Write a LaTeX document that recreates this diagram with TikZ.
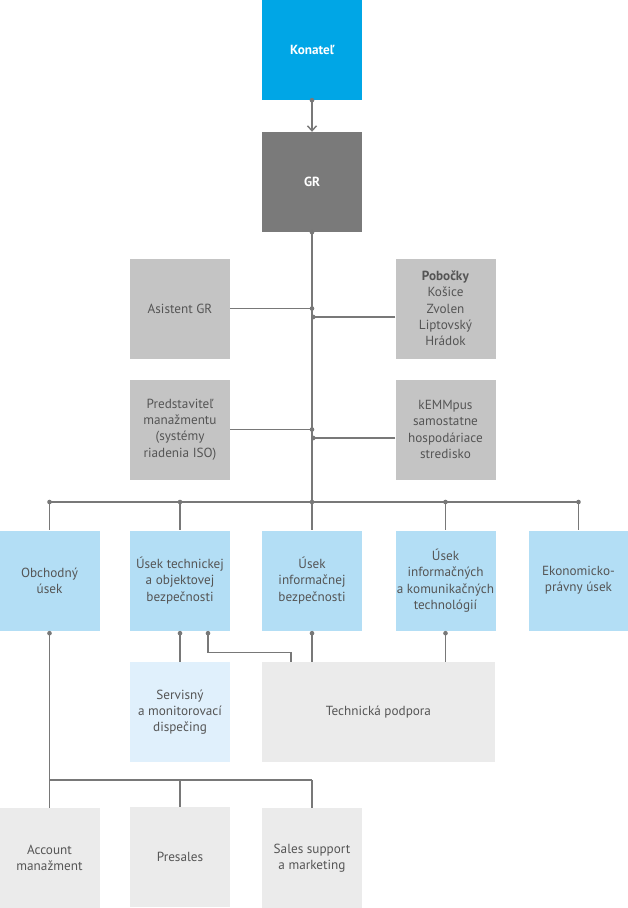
\documentclass[tikz,border=0pt]{standalone}
\usepackage{fontspec}
\setmainfont{PT Sans}
\usetikzlibrary{arrows}
\usetikzlibrary{arrows.meta}
\definecolor{konblue}{RGB}{0,166,230}
\definecolor{grgray}{RGB}{122,122,122}
\definecolor{midgray}{RGB}{196,196,196}
\definecolor{lightblue}{RGB}{179,222,245}
\definecolor{paleblue}{RGB}{224,240,252}
\definecolor{palegray}{RGB}{235,235,235}
\definecolor{linegray}{RGB}{120,120,120}
\definecolor{txtgray}{RGB}{85,85,85}
\tikzset{
  box/.style={minimum width=100pt, minimum height=100pt, inner sep=0pt, align=center, text=txtgray, font=\fontsize{13.2}{16.3}\selectfont},
  topbox/.style={box, text=white, font=\fontsize{13.2}{16.3}\selectfont\bfseries},
  link/.style={draw=linegray, line width=1.4pt},
  dot/.style={fill=linegray}
}
\begin{document}
\begin{tikzpicture}[x=1pt,y=-1pt]
\useasboundingbox[fill=white] (0,0) rectangle (628,908);
% top
\node[topbox, fill=konblue] (konatel) at (312,50) {Konateľ};
\node[topbox, fill=grgray] (gr) at (312,182) {GR};
% staff
\node[box, fill=midgray] (asistent) at (180,308.5) {Asistent GR};
\node[box, fill=midgray] (pobocky) at (445.5,308.5) {\textbf{Pobočky}\\Košice\\Zvolen\\Liptovský\\Hrádok};
\node[box, fill=midgray] (predstavitel) at (180,429.5) {Predstaviteľ\\manažmentu\\(systémy\\riadenia ISO)};
\node[box, fill=midgray] (kemmpus) at (445.5,429.5) {kEMMpus\\samostatne\\hospodáriace\\stredisko};
% departments
\node[box, fill=lightblue] (obchodny) at (49.5,580.5) {Obchodný\\úsek};
\node[box, fill=lightblue] (technicka) at (180,580.5) {Úsek technickej\\a objektovej\\bezpečnosti};
\node[box, fill=lightblue] (infobez) at (312,580.5) {Úsek\\informačnej\\bezpečnosti};
\node[box, fill=lightblue] (ikt) at (445.5,580.5) {Úsek\\informačných\\a komunikačných\\technológií};
\node[box, fill=lightblue] (ekonom) at (578.5,580.5) {Ekonomicko-\\právny úsek};
% units
\node[box, fill=paleblue] (servisny) at (180,712) {Servisný\\a monitorovací\\dispečing};
\node[box, fill=palegray, minimum width=233pt] (podpora) at (378.5,712) {Technická podpora};
\node[box, fill=palegray] (account) at (49.5,858) {Account\\manažment};
\node[box, fill=palegray] (presales) at (180,857) {Presales};
\node[box, fill=palegray] (sales) at (312,858) {Sales support\\a marketing};

\coordinate (bus) at (312,502);
\coordinate (salesbus) at (0,780);

% connectors
\draw[link,-{Straight Barb[length=5pt,width=9pt]}] (konatel.south) -- (gr.north);
\draw[link] (gr.south) -- (bus);
\draw[link] (asistent.east) -- (asistent.east -| gr.south) coordinate (j1);
\draw[link] ([yshift=-8.5pt]pobocky.west) -- ++(-82,0) coordinate (j2);
\draw[link] (predstavitel.east) -- (predstavitel.east -| gr.south) coordinate (j3);
\draw[link] ([yshift=-8.5pt]kemmpus.west) -- ++(-82,0) coordinate (j4);
\draw[link] (obchodny.north |- bus) -- (ekonom.north |- bus);
\foreach \n in {obchodny,technicka,infobez,ikt,ekonom}
  \draw[link] (\n.north |- bus) -- (\n.north);

\draw[link] (technicka.south) -- (servisny.north);
\draw[link] ([xshift=28pt]technicka.south) -- ++(0,21.5) -| ([xshift=-87.5pt]podpora.north);
\draw[link] (infobez.south) -- (infobez.south |- podpora.north);
\draw[link] (ikt.south) -- (ikt.south |- podpora.north);

\draw[link] (obchodny.south) -- (account.north);
\draw[link] (account.north |- salesbus) -- (sales.north |- salesbus);
\draw[link] (presales.north |- salesbus) -- (presales.north);
\draw[link] (sales.north |- salesbus) -- (sales.north);

% dots
\foreach \p in {konatel.south,gr.south,j1,j2,j3,j4}
  \fill[dot] (\p) circle (2.3pt);
\foreach \n in {obchodny,technicka,infobez,ikt,ekonom}
  \fill[dot] (\n.north |- bus) circle (2.3pt);
\foreach \n in {obchodny,technicka,infobez,ikt}
  \fill[dot] ([yshift=-2.5pt]\n.south) circle (2.3pt);
\fill[dot] ([xshift=28pt,yshift=-2.5pt]technicka.south) circle (2.3pt);
\end{tikzpicture}
\end{document}
